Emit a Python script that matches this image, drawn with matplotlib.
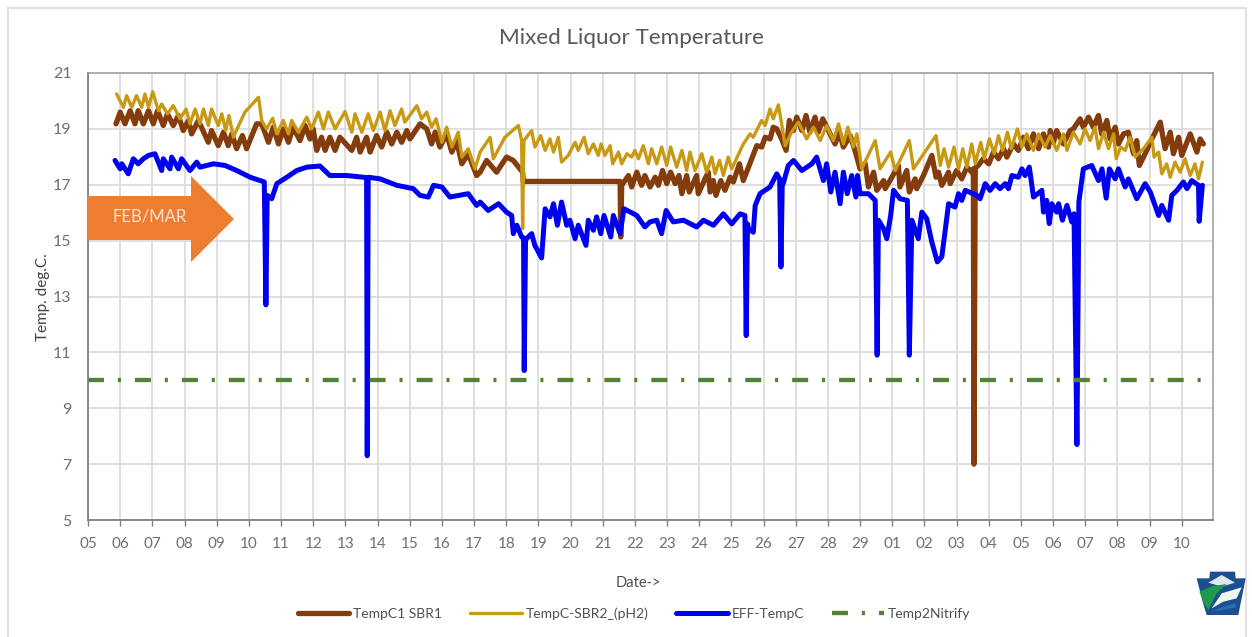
import matplotlib
matplotlib.use("Agg")
import matplotlib.pyplot as plt
from matplotlib.patches import Polygon, Rectangle

W, H = 1252, 637
plt.rcParams['font.family'] = ['Lato', 'DejaVu Sans']
plt.rcParams['lines.scale_dashes'] = False

tick_labels = ["05","06","07","08","09","10","11","12","13","14","15","16","17","18","19","20",
               "21","22","23","24","25","26","27","28","29","01","02","03","04","05","06","07",
               "08","09","10"]
y_ticks = [5, 7, 9, 11, 13, 15, 17, 19, 21]

brown_day = [.87,1.0,1.15,1.31,1.46,1.56,1.72,1.88,2.03,2.16,2.34,2.47,2.65,2.81,2.96,3.12,3.22,3.43,3.74,3.84,
 4.05,4.21,4.36,4.47,4.62,4.80,4.93,5.24,5.4,5.61,5.76,5.92,6.07,6.23,6.38,6.59,6.75,6.9,7.0,7.11,7.26,7.37,7.52,
 7.68,7.83,8.2,8.35,8.46,8.66,8.77,8.97,9.13,9.29,9.44,9.6,9.75,9.91,10.01,10.32,10.53,10.68,10.79,10.94,11.15,
 11.31,11.46,11.62,11.82,12.08,12.19,12.39,12.7,13.01,13.22,13.51,13.53,16.54,16.56,16.59,16.8,16.9,17.06,17.21,
 17.31,17.47,17.63,17.73,17.86,17.99,18.11,18.25,18.37,18.46,18.61,18.69,18.92,18.97,19.18,19.28,19.34,19.44,
 19.52,19.67,19.8,19.96,20.06,20.25,20.37,20.63,20.79,20.94,21.05,21.2,21.3,21.41,21.56,21.7,21.8,21.93,22.03,
 22.19,22.32,22.44,22.6,22.7,22.84,23.07,23.22,23.36,23.48,23.69,23.84,24.0,24.02,24.16,24.26,24.42,24.52,24.73,
 24.78,24.99,25.19,25.24,25.45,25.53,25.71,25.76,25.97,26.23,26.36,26.44,26.54,26.75,26.8,27.0,27.16,27.32,27.47,
 27.52,27.54,27.58,27.68,27.83,28.0,28.15,28.3,28.46,28.56,28.77,28.92,29.08,29.23,29.39,29.55,29.7,29.86,29.91,
 30.01,30.11,30.32,30.53,30.63,30.84,30.94,31.1,31.25,31.41,31.51,31.67,31.77,31.93,32.03,32.19,32.34,32.5,32.6,
 32.68,32.86,33.07,33.33,33.48,33.64,33.74,33.9,34.0,34.26,34.47,34.57,34.67]
brown_val = [19.18,19.6,19.18,19.65,19.18,19.65,19.18,19.65,19.18,19.65,19.12,19.54,19.12,19.48,18.94,19.3,18.82,19.3,18.52,18.94,
 18.4,18.88,18.4,18.82,18.29,18.76,18.29,19.18,19.18,18.52,19.06,18.46,19.0,18.52,19.06,18.58,19.12,18.64,19.0,18.23,18.7,18.23,18.7,
 18.23,18.7,18.23,18.7,18.17,18.7,18.17,18.76,18.35,18.88,18.46,18.88,18.52,18.94,18.64,19.18,19.0,18.46,18.88,18.35,18.82,
 18.17,18.58,17.75,18.11,17.33,17.45,17.87,17.45,17.99,17.87,17.45,17.12,17.12,15.13,16.98,17.33,16.92,17.45,16.98,
 17.33,16.92,17.27,16.98,17.51,17.04,17.45,17.04,17.33,16.68,17.33,16.74,17.33,16.68,17.21,17.45,16.74,17.15,
 16.62,17.15,16.8,17.27,17.1,17.75,17.15,17.93,18.4,18.35,18.7,18.64,19.06,19.0,18.64,18.23,19.3,18.94,19.42,
 18.94,19.48,18.88,19.42,18.88,19.36,18.82,18.46,18.88,18.35,18.76,18.23,17.57,17.63,17.75,16.92,17.45,16.8,17.15,
 16.86,17.27,17.69,16.92,17.51,16.74,17.21,16.86,17.33,18.05,17.27,17.45,16.98,17.45,17.04,17.51,17.21,17.63,17.45,
 17.57,7.0,17.6,17.7,17.93,17.75,18.17,17.93,18.29,17.99,18.46,18.23,18.7,18.29,18.82,18.29,18.82,18.35,18.94,
 18.52,18.94,18.46,18.94,19.0,19.36,19.06,19.42,19.06,19.48,18.82,19.3,18.64,19.06,18.46,18.82,18.88,18.11,18.58,
 17.69,18.11,18.64,19.24,18.29,18.88,18.11,18.7,18.05,18.82,18.17,18.64,18.46]

gold_day = [.89,1.10,1.20,1.36,1.51,1.67,1.77,1.88,2.01,2.19,2.29,2.47,2.65,2.86,3.05,3.17,3.33,3.48,3.59,3.74,3.84,
 4.05,4.16,4.28,4.38,4.52,4.73,4.88,5.30,5.40,5.55,5.74,5.87,6.07,6.23,6.33,6.54,6.80,6.95,7.16,7.32,7.47,7.68,
 7.99,8.2,8.3,8.51,8.71,8.87,9.08,9.23,9.39,9.54,9.75,9.85,10.22,10.37,10.53,10.68,10.82,11.0,11.15,11.31,11.51,
 11.62,11.82,12.03,12.19,12.5,12.6,12.96,13.38,13.48,13.51,13.55,13.79,13.89,14.07,14.21,14.36,14.47,14.62,14.72,
 14.93,15.14,15.24,15.42,15.55,15.71,15.86,15.95,16.07,16.23,16.31,16.49,16.59,16.75,16.9,17.0,17.11,17.26,17.42,
 17.52,17.68,17.83,17.99,18.11,18.3,18.46,18.61,18.71,18.87,19.08,19.23,19.39,19.49,19.63,19.75,19.9,20.01,20.37,
 20.58,20.68,20.94,21.05,21.2,21.3,21.46,21.56,21.67,21.87,22.08,22.34,22.55,22.76,22.96,23.17,23.33,23.48,23.62,
 23.79,23.9,24.05,24.47,24.62,24.95,25.09,25.53,25.66,26.36,26.49,26.61,26.75,26.92,27.06,27.19,27.32,27.47,27.58,
 27.75,27.86,28.02,28.17,28.3,28.43,28.58,28.7,28.89,29.03,29.18,29.39,29.55,29.75,29.91,30.11,30.32,30.43,30.63,
 30.84,30.99,31.15,31.3,31.41,31.57,31.72,31.88,31.96,32.1,32.24,32.39,32.55,32.81,33.07,33.14,33.28,33.38,33.53,
 33.64,33.79,33.95,34.1,34.26,34.41,34.52,34.64]
gold_val = [20.25,19.77,20.19,19.77,20.19,19.77,20.25,19.77,20.33,19.65,19.89,19.54,19.83,19.36,19.71,19.18,19.71,19.18,19.71,19.12,19.71,
 19.12,19.54,18.94,19.48,18.70,19.24,19.6,20.13,19.3,19.0,19.38,18.82,19.3,18.82,19.3,18.88,19.42,19.0,19.6,19.0,19.6,19.0,
 19.62,18.88,19.54,18.88,19.54,18.94,19.6,18.94,19.65,19.12,19.71,19.24,19.83,19.36,19.6,19.06,19.36,18.52,19.06,18.35,18.88,
 17.99,18.29,17.57,18.17,18.7,17.93,18.7,19.12,18.58,15.43,18.58,18.94,18.35,18.76,18.23,18.64,18.17,18.7,17.81,
 18.05,18.52,18.23,18.7,18.11,18.46,18.05,18.46,18.05,18.4,17.75,18.17,17.75,18.11,17.99,18.23,17.93,18.4,17.75,
 18.29,17.75,18.35,17.69,18.35,17.63,18.23,17.51,18.17,17.51,18.11,17.45,17.99,17.39,17.87,17.33,17.99,17.57,18.46,
 18.82,18.7,19.3,19.12,19.71,19.36,19.86,19.18,18.4,18.88,19.24,18.64,19.06,18.58,19.12,18.58,19.18,18.46,19.06,
 18.35,18.82,17.57,18.58,17.57,18.17,17.51,18.58,17.57,18.76,17.69,18.29,17.63,18.35,17.57,18.29,17.63,18.46,17.75,
 18.52,17.93,18.64,18.11,18.76,18.23,18.88,18.29,19.0,18.35,18.82,18.23,18.82,18.35,18.76,18.23,18.82,18.23,18.88,
 18.46,19.0,18.58,19.06,18.29,18.88,18.29,18.82,17.93,18.35,18.23,18.7,17.99,18.29,18.7,17.99,18.17,17.39,17.75,
 17.27,17.81,17.45,17.93,17.33,17.75,17.21,17.81]

blue_day = [.84,1.0,1.05,1.25,1.41,1.56,1.72,1.88,2.08,2.29,2.34,2.55,2.6,2.81,2.91,3.17,3.38,3.48,3.9,4.26,4.62,5.04,5.48,
 5.53,5.57,5.71,5.87,6.18,6.49,6.8,7.21,7.52,8.04,8.56,8.66,8.68,8.71,9.08,9.6,10.11,10.32,10.58,10.74,11.0,11.25,11.82,
 12.08,12.19,12.44,12.76,13.01,13.17,13.22,13.33,13.48,13.54,13.56,13.6,13.63,13.79,13.89,14.1,14.21,14.36,14.47,14.59,
 14.72,14.88,14.98,15.14,15.24,15.48,15.55,15.71,15.81,15.94,16.04,16.25,16.33,16.54,16.66,17.06,17.31,17.47,17.68,
 17.83,17.97,18.19,18.51,18.92,19.13,19.44,19.75,20.01,20.27,20.42,20.46,20.5,20.53,20.68,20.74,20.89,21.2,21.41,21.5,
 21.54,21.58,21.61,21.77,21.93,22.19,22.5,22.65,22.86,22.96,23.09,23.22,23.38,23.48,23.6,23.74,23.87,23.92,24.0,24.26,24.47,
 24.53,24.57,24.73,24.83,24.95,25.04,25.24,25.47,25.53,25.61,25.81,25.92,26.07,26.23,26.4,26.54,26.64,26.75,26.95,27.06,
 27.16,27.27,27.63,27.73,27.89,28.04,28.2,28.35,28.51,28.61,28.72,28.92,29.03,29.13,29.26,29.39,29.65,29.7,29.8,29.88,
 29.96,30.11,30.17,30.29,30.43,30.58,30.65,30.74,30.8,30.94,31.2,31.41,31.52,31.65,31.75,31.93,32.03,32.24,32.34,32.6,
 32.86,33.02,33.28,33.38,33.59,33.69,33.85,34.05,34.16,34.31,34.52,34.54,34.64]
blue_val = [17.87,17.57,17.75,17.39,17.93,17.75,17.93,18.05,18.11,17.51,17.93,17.57,17.99,17.57,17.93,17.51,17.81,17.63,17.75,17.69,17.51,17.27,17.1,
 12.7,16.62,16.5,17.04,17.27,17.51,17.63,17.67,17.33,17.33,17.27,17.25,7.3,17.27,17.21,16.98,16.86,16.62,16.56,16.98,16.92,16.56,16.68,
 16.26,16.38,16.08,16.32,16.02,15.9,15.25,15.55,15.13,15.1,10.35,15.0,15.07,15.25,14.83,14.38,16.14,15.85,16.32,15.55,
 16.38,15.55,15.73,15.07,15.55,14.83,15.73,15.37,15.85,15.25,15.9,15.13,15.9,15.25,16.14,15.9,15.49,15.67,15.73,
 15.25,16.08,15.67,15.73,15.49,15.73,15.55,15.96,15.6,15.96,15.9,11.6,15.6,15.43,15.3,16.26,16.68,16.92,17.39,17.2,
 14.06,17.0,17.04,17.69,17.87,17.51,17.75,17.99,17.15,17.75,16.74,17.45,16.32,17.45,16.68,17.33,16.56,17.33,16.68,16.68,16.44,
 10.9,15.73,15.43,15.07,15.9,16.8,16.5,16.44,10.9,15.73,15.07,16.02,15.79,14.95,14.24,14.42,15.31,16.32,16.2,16.68,
 16.44,16.8,16.62,16.5,17.04,16.8,17.04,16.86,17.04,16.86,17.33,17.27,17.57,17.33,17.63,16.56,16.8,16.02,16.44,15.61,
 16.32,16.02,16.32,15.73,16.26,15.67,15.96,7.7,16.38,17.57,17.69,17.15,17.57,16.52,17.57,17.21,17.57,16.92,17.21,16.5,
 17.04,16.74,15.9,16.26,15.73,16.62,16.8,17.1,16.86,17.15,16.98,15.69,16.98]

green_day = [0.0, 34.65]
green_val = [10.0, 10.0]

fig = plt.figure(figsize=(W / 100, H / 100), dpi=100, facecolor='white')
def P(x, y):
    return (x / W, 1 - y / H)

fig.add_artist(Rectangle(P(7.5, 660), 1238.5 / W, 652 / H, transform=fig.transFigure,
                         fill=False, edgecolor='#e2e2e2', linewidth=1.5))

ax = fig.add_axes([88 / W, (H - 520) / H, 1125 / W, 447 / H])
ax.set_xlim(0, 34.97)
ax.set_ylim(5, 21)
ax.set_xticks(range(len(tick_labels)))
ax.set_xticklabels(tick_labels, fontsize=11, color='#707070')
ax.set_yticks(y_ticks)
ax.set_yticklabels([str(v) for v in y_ticks], fontsize=11.5, color='#707070')
ax.grid(True, color='#d9d9d9', linewidth=1.2)
ax.set_axisbelow(True)
ax.tick_params(axis='x', length=4, width=1, color='#7f7f7f', pad=8)
ax.tick_params(axis='y', length=0, pad=12)
for s in ('left', 'bottom'):
    ax.spines[s].set_color('#7f7f7f')
    ax.spines[s].set_linewidth(1.3)
for s in ('top', 'right'):
    ax.spines[s].set_color('#9a9a9a')
    ax.spines[s].set_linewidth(1.1)

kw = dict(solid_joinstyle='round', solid_capstyle='round')
ax.plot(brown_day, brown_val, color='#843C0C', lw=3.8, label='TempC1 SBR1', **kw)
ax.plot(gold_day, gold_val, color='#C89A14', lw=2.4, label='TempC-SBR2_(pH2)', **kw)
ax.plot(blue_day, blue_val, color='#0000F0', lw=3.6, label='EFF-TempC', **kw)
ax.plot(green_day, green_val, color='#548235', lw=3.1, label='Temp2Nitrify',
        linestyle=(0, (11.5, 10.0, 2.2, 10.1)))

fig.text(*P(631, 38), 'Mixed Liquor Temperature', fontsize=16.2, color='#595959', ha='center', va='center')
fig.text(*P(43, 297), 'Temp. deg.C.', fontsize=11, color='#404040', rotation=90, ha='center', va='center')
fig.text(*P(638, 583), 'Date->', fontsize=10.5, color='#505050', ha='center', va='center')

fig.legend(loc='center', bbox_to_anchor=P(634, 614), ncol=4, frameon=False, fontsize=10,
           handlelength=3.7, columnspacing=2.0, handletextpad=0.3, labelcolor='#505050')

arrow = [(87, 196), (191, 196), (191, 176), (234, 219), (191, 262), (191, 240), (87, 240)]
fig.add_artist(Polygon([P(*p) for p in arrow], closed=True, transform=fig.transFigure,
                       facecolor='#ED7D31', edgecolor='none', zorder=5))
fig.text(*P(150, 217), 'FEB/MAR', fontsize=12, color='#FBE5D6', ha='center', va='center', zorder=6)

# keystone emblem
def shape(pts, color):
    fig.add_artist(Polygon([P(1180 + x / 3, 560 + y / 3) for x, y in pts], closed=True,
                           transform=fig.transFigure, facecolor=color, edgecolor='none', zorder=5))
shape([(50, 55), (88, 55), (90, 35), (165, 35), (167, 55), (197, 55), (175, 165), (80, 165), (68, 125)], '#1B4F91')
shape([(85, 68), (125, 45), (165, 68), (125, 80)], '#DCE8F0')
shape([(58, 95), (100, 78), (140, 72), (110, 100), (85, 150), (72, 130)], '#1F9A4B')
shape([(95, 145), (125, 100), (185, 82), (170, 115), (130, 125)], '#EFF6EE')
shape([(100, 150), (165, 130), (170, 142), (115, 152)], '#2C6FB0')

fig.savefig('out.png', dpi=100)
